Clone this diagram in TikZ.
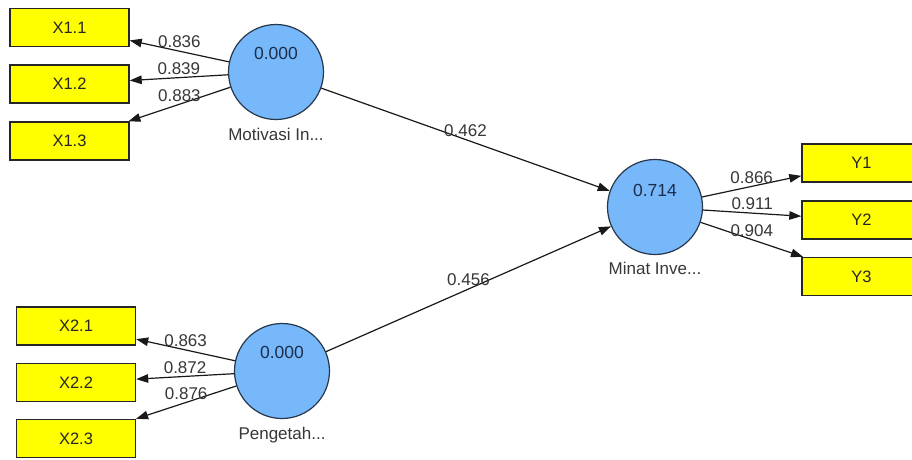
\documentclass[tikz,border=0pt]{standalone}
\usepackage{fontspec}
\setmainfont{Liberation Sans}
\usetikzlibrary{arrows.meta,positioning}
\definecolor{boxyellow}{RGB}{255,255,0}
\definecolor{circblue}{RGB}{118,184,250}
\definecolor{circline}{RGB}{40,55,75}
\definecolor{valtxt}{RGB}{28,45,75}
\definecolor{lbltxt}{RGB}{55,55,55}
\definecolor{linecol}{RGB}{25,25,25}
\tikzset{
  ind/.style={draw=black!85, line width=1.4pt, fill=boxyellow, minimum width=119pt, minimum height=38pt, inner sep=0pt, font=\fontsize{16.5}{18}\selectfont, text=black!85},
  lv/.style={circle, draw=circline, line width=1.2pt, fill=circblue, minimum size=95pt, inner sep=0pt},
  valnode/.style={font=\fontsize{17.5}{19}\selectfont, text=valtxt, inner sep=0pt},
  namenode/.style={font=\fontsize{17}{19}\selectfont, text=lbltxt, inner sep=0pt},
  conn/.style={draw=linecol, line width=1.2pt, -{Triangle[length=12pt,width=8.5pt]}},
  wt/.style={font=\fontsize{17}{19}\selectfont, text=lbltxt, inner sep=1pt, above=1.5pt}
}
\begin{document}
\begin{tikzpicture}[x=1pt,y=-1pt]
\useasboundingbox (0,0) rectangle (912,459);
\clip (0,0) rectangle (912,459);
\fill[white] (0,0) rectangle (912,459);
% indicator boxes
\node[ind] (x11) at (69.5,27.5) {X1.1};
\node[ind] (x12) at (69.5,84) {X1.2};
\node[ind] (x13) at (69.5,141) {X1.3};
\node[ind] (x21) at (76,326) {X2.1};
\node[ind] (x22) at (76,382.5) {X2.2};
\node[ind] (x23) at (76,438.5) {X2.3};
\node[ind] (y1) at (861.5,163) {Y1};
\node[ind] (y2) at (861.5,220) {Y2};
\node[ind] (y3) at (861.5,276.5) {Y3};
% latent variables
\node[lv] (mot) at (276,72) {};
\node[lv] (pen) at (282,371) {};
\node[lv] (min) at (655,207) {};
\node[valnode] (motv) at ([yshift=19pt]mot.center) {0.000};
\node[valnode] (penv) at ([yshift=19pt]pen.center) {0.000};
\node[valnode] (minv) at ([yshift=17pt]min.center) {0.714};
\node[namenode, below=8pt of mot] (motn) {Motivasi In...};
\node[namenode, below=8pt of pen] (penn) {Pengetah...};
\node[namenode, below=7pt of min] (minn) {Minat Inve...};
% outer loadings
\draw[conn] (mot) -- node[wt] (l1) {0.836} (x11);
\draw[conn] (mot) -- node[wt] (l2) {0.839} (x12);
\draw[conn] (mot) -- node[wt] (l3) {0.883} (x13);
\draw[conn] (pen) -- node[wt] (l4) {0.863} (x21);
\draw[conn] (pen) -- node[wt] (l5) {0.872} (x22);
\draw[conn] (pen) -- node[wt] (l6) {0.876} (x23);
\draw[conn] (min) -- node[wt] (l7) {0.866} (y1);
\draw[conn] (min) -- node[wt] (l8) {0.911} (y2);
\draw[conn] (min) -- node[wt] (l9) {0.904} (y3);
% path coefficients
\draw[conn] (mot) -- node[wt] (p1) {0.462} (min);
\draw[conn] (pen) -- node[wt] (p2) {0.456} (min);
\end{tikzpicture}
\end{document}
